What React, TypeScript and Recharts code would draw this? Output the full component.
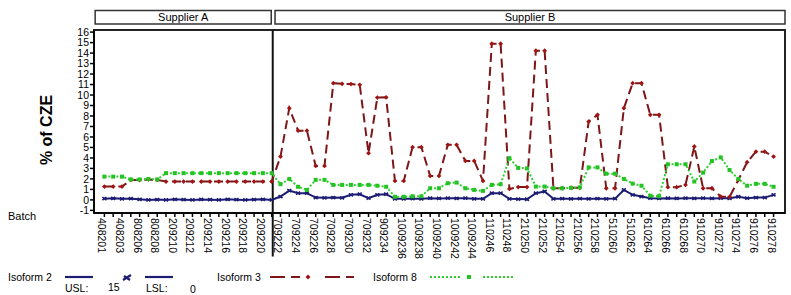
import React from 'react';
import { LineChart, Line, XAxis, YAxis, ReferenceArea, ReferenceLine } from 'recharts';

const batches = [
  '408201', '408202', '408203', '808205', '808206', '808207', '808208', '209209', '209210', '209211',
  '209212', '209213', '209214', '209215', '209216', '209217', '209218', '209219', '209220', '209221',
  '709222', '709223', '709224', '709225', '709226', '709227', '709228', '709229', '709230', '709231',
  '709232', '709233', '909234', '1009235', '1009236', '1009237', '1009238', '1009239', '1009240', '1009241',
  '1009242', '1009243', '1009244', '110245', '110246', '110247', '110248', '210249', '210250', '210251',
  '210252', '210253', '210254', '210255', '210256', '210257', '210258', '510259', '510260', '510261',
  '510262', '610263', '610264', '610265', '610266', '610267', '610268', '910269', '910270', '910271',
  '910272', '910273', '910274', '910275', '910276', '910277', '910278',
];

const isoform2 = [
  0.12, 0.15, 0.1, 0.12, 0.05, 0.0, 0.03, 0.0, 0.05, 0.02, 0.0, 0.04, 0.02, 0.0, 0.05, 0.02, 0.0, 0.03, 0.05, 0.0,
  0.32, 0.89, 0.64, 0.64, 0.22, 0.2, 0.22, 0.2, 0.48, 0.54, 0.16, 0.48, 0.54, 0.1, 0.1, 0.12, 0.1, 0.16, 0.14, 0.16,
  0.15, 0.16, 0.1, 0.1, 0.64, 0.64, 0.1, 0.08, 0.06, 0.64, 0.8, 0.1, 0.12, 0.1, 0.12, 0.1, 0.12, 0.1, 0.12, 0.95,
  0.48, 0.32, 0.16, 0.14, 0.16, 0.14, 0.16, 0.15, 0.16, 0.14, 0.16, 0.15, 0.3, 0.16, 0.22, 0.22, 0.48,
];

const isoform3 = [
  1.27, 1.27, 1.27, 1.9, 1.9, 1.95, 1.9, 1.75, 1.75, 1.75, 1.75, 1.75, 1.75, 1.75, 1.75, 1.75, 1.75, 1.75, 1.75, 1.75,
  4.13, 8.75, 6.6, 6.6, 3.24, 3.24, 11.13, 11.07, 11.04, 10.97, 4.45, 9.76, 9.78, 1.81, 1.81, 5.03, 5.03, 2.29, 2.29, 5.25,
  5.25, 3.72, 3.72, 1.81, 14.89, 14.89, 1.05, 1.22, 1.22, 14.22, 14.22, 1.11, 1.11, 1.15, 1.15, 7.47, 8.11, 1.11, 1.11, 8.75,
  11.13, 11.13, 8.11, 8.11, 1.21, 1.21, 1.43, 5.09, 1.11, 1.11, 0.32, 0.28, 1.9, 3.6, 4.6, 4.6, 4.13,
];

const isoform8 = [
  2.22, 2.22, 2.22, 1.95, 1.95, 2.0, 1.95, 2.55, 2.55, 2.55, 2.55, 2.55, 2.55, 2.55, 2.55, 2.55, 2.55, 2.55, 2.55, 2.55,
  1.5, 2.0, 1.25, 0.95, 1.91, 1.91, 1.43, 1.43, 1.43, 1.43, 1.43, 1.35, 1.25, 0.3, 0.3, 0.35, 0.35, 1.11, 1.11, 1.59,
  1.65, 1.11, 0.95, 0.86, 1.43, 1.49, 3.98, 3.05, 3.0, 1.27, 1.27, 1.11, 1.11, 1.15, 1.2, 3.1, 3.1, 2.5, 2.5, 2.0,
  1.55, 1.35, 0.4, 0.35, 3.4, 3.4, 3.4, 1.75, 2.6, 3.7, 4.05, 2.85, 2.0, 1.35, 1.53, 1.53, 1.25,
];

const yTicks = [-1, 0, 1, 2, 3, 4, 5, 6, 7, 8, 9, 10, 11, 12, 13, 14, 15, 16];
const panelNames = ['Supplier A', 'Supplier B'];
const seriesNames = ['Isoform 2', 'Isoform 3', 'Isoform 8'];
const specLabels = ['USL:', '15', 'LSL:', '0'];

const data = batches.map((b, i) => ({ idx: i, batch: b, iso2: isoform2[i], iso3: isoform3[i], iso8: isoform8[i] }));
const xTicks = batches.map((_, i) => i);

const FONT = '"Liberation Sans", Arial, sans-serif';
const BLUE = '#1c1c72';
const RED = '#7c1618';
const GREEN = '#2fcf2f';

const XTick = (props: any) => {
  const { x, y, payload } = props;
  const i = payload.value;
  if (i % 2 !== 0) return <g />;
  const tx = x - 2;
  return (
    <text x={tx} y={y} transform={`rotate(90 ${tx} ${y})`} textAnchor="start" dominantBaseline="central"
      fontSize={10.5} fontFamily={FONT} fill="#000">{batches[i]}</text>
  );
};

const BlueDot = (props: any) => {
  const { cx, cy, index } = props;
  if (cx == null || cy == null) return <g key={index} />;
  return (
    <path key={index} d={`M${cx - 2},${cy + 1.5}L${cx + 2},${cy - 1.5}M${cx - 2},${cy - 1.5}L${cx + 2},${cy + 1.5}`}
      stroke={BLUE} strokeWidth={1.6} fill="none" />
  );
};

const RedDot = (props: any) => {
  const { cx, cy, index } = props;
  if (cx == null || cy == null) return <g key={index} />;
  return <path key={index} d={`M${cx},${cy - 2.4}L${cx + 2.4},${cy}L${cx},${cy + 2.4}L${cx - 2.4},${cy}Z`} fill="#a01414" />;
};

const GreenDot = (props: any) => {
  const { cx, cy, index } = props;
  if (cx == null || cy == null) return <g key={index} />;
  return <rect key={index} x={cx - 2} y={cy - 2} width={4} height={4} fill="#22c322" />;
};

const YTitle = () => (
  <text x={46} y={130} transform="rotate(-90 46 130)" textAnchor="middle" dominantBaseline="central"
    fontSize={16} fontWeight="bold" fontFamily={FONT} fill="#000">% of CZE</text>
);

const XTitle = () => (
  <text x={8} y={220} fontSize={11} fontFamily={FONT} fill="#000">Batch</text>
);

const LegendBlock = () => (
  <svg width={791} height={37} style={{ position: 'absolute', left: 0, top: 258 }}>
    <g transform="translate(0,-258)" fontFamily={FONT} fontSize={10.5} fill="#000">
      <text x={8} y={281}>{seriesNames[0]}</text>
      <line x1={65} y1={277} x2={93} y2={277} stroke={BLUE} strokeWidth={2.2} />
      <path d="M123,280L131,275M124,276L130,280" stroke={BLUE} strokeWidth={2.2} />
      <line x1={145} y1={277} x2={173} y2={277} stroke={BLUE} strokeWidth={2.2} />
      <text x={65} y={292}>{specLabels[0]}</text>
      <text x={108} y={291}>{specLabels[1]}</text>
      <text x={146} y={292}>{specLabels[2]}</text>
      <text x={190} y={293}>{specLabels[3]}</text>

      <text x={217} y={281}>{seriesNames[1]}</text>
      <line x1={270} y1={277} x2={300} y2={277} stroke={RED} strokeWidth={2} strokeDasharray="15 6" />
      <path d="M308,274.5L310.5,277L308,279.5L305.5,277Z" fill="#a01414" />
      <line x1={325} y1={277} x2={354} y2={277} stroke={RED} strokeWidth={2} strokeDasharray="15 6" />

      <text x={373} y={281}>{seriesNames[2]}</text>
      <line x1={430} y1={277} x2={462} y2={277} stroke={GREEN} strokeWidth={2} strokeDasharray="2 2" />
      <rect x={467} y={275} width={4} height={4} fill="#22c322" />
      <line x1={483} y1={277} x2={514} y2={277} stroke={GREEN} strokeWidth={2} strokeDasharray="2 2" />
    </g>
  </svg>
);

export default function App() {
  return (
    <div style={{ position: 'absolute', left: 0, top: 0, width: 791, height: 295, background: '#fff', overflow: 'hidden' }}>
      <LineChart width={791} height={295} data={data} margin={{ top: 30, right: 6, bottom: 0, left: 0 }}>
        <XAxis dataKey="idx" type="number" domain={[-1.18, 77.3]} ticks={xTicks} interval={0} allowDataOverflow
          height={82} tickSize={4} tickMargin={1} tick={<XTick />} stroke="#000" strokeWidth={1.5}
          label={<XTitle />} />
        <YAxis type="number" domain={[-1.25, 16.2]} ticks={yTicks} interval={0} allowDataOverflow width={94}
          tickSize={4} tickMargin={1} stroke="#000" strokeWidth={1.5}
          tick={{ fontSize: 10.5, fontFamily: FONT, fill: '#000' }} label={<YTitle />} />
        <ReferenceArea x1={-1.18} x2={77.3} y1={-1.25} y2={16.2} fill="none" fillOpacity={0} stroke="#222" strokeWidth={2} />
        <ReferenceArea x1={-1.05} x2={18.95} y1={16.78} y2={18.05} ifOverflow="visible" fill="#fff" fillOpacity={1}
          stroke="#333" strokeWidth={1.5}
          label={{ value: panelNames[0], position: 'center', fontSize: 11, fontFamily: FONT, fill: '#000' }} />
        <ReferenceArea x1={19.38} x2={77.3} y1={16.78} y2={18.05} ifOverflow="visible" fill="#fff" fillOpacity={1}
          stroke="#333" strokeWidth={1.5}
          label={{ value: panelNames[1], position: 'center', fontSize: 11, fontFamily: FONT, fill: '#000' }} />
        <ReferenceLine segment={[{ x: 19.12, y: 16.2 }, { x: 19.12, y: -5.4 }]} ifOverflow="visible" stroke="#111" strokeWidth={2} />
        <Line type="linear" dataKey="iso2" name={seriesNames[0]} stroke={BLUE} strokeWidth={2} dot={BlueDot}
          isAnimationActive={false} />
        <Line type="linear" dataKey="iso3" name={seriesNames[1]} stroke={RED} strokeWidth={2} strokeDasharray="9 5"
          dot={RedDot} isAnimationActive={false} />
        <Line type="linear" dataKey="iso8" name={seriesNames[2]} stroke={GREEN} strokeWidth={2} strokeDasharray="2 2"
          dot={GreenDot} isAnimationActive={false} />
      </LineChart>
      <LegendBlock />
    </div>
  );
}
